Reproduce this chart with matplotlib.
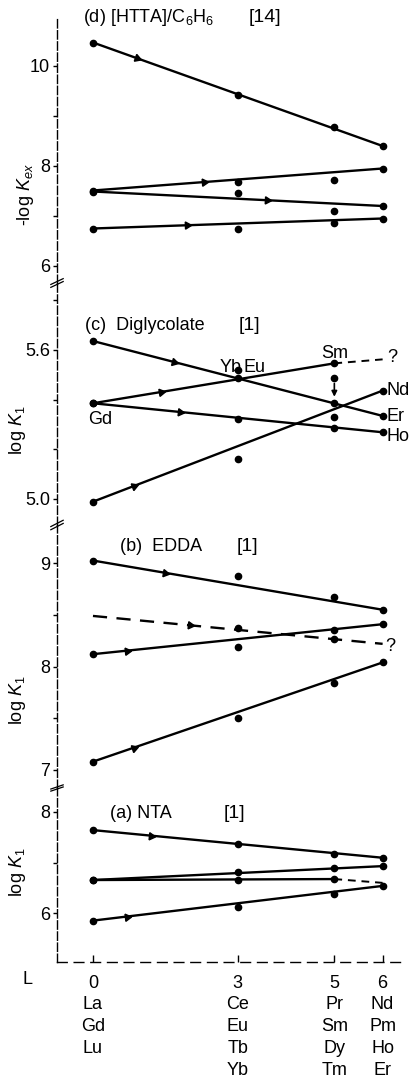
import numpy as np
import matplotlib
matplotlib.use('Agg')
import matplotlib.pyplot as plt
from matplotlib import font_manager

# fonts: a narrow sans like the scan, whichever is installed
names = {f.name for f in font_manager.fontManager.ttflist}
FONT = 'DejaVu Sans'
for cand in ['Liberation Sans Narrow', 'Liberation Sans']:
    if cand in names:
        FONT = cand
        break
plt.rcParams['font.family'] = [FONT, 'DejaVu Sans']
plt.rcParams['mathtext.fontset'] = 'custom'
plt.rcParams['mathtext.rm'] = FONT
plt.rcParams['mathtext.it'] = FONT + ':italic'
plt.rcParams['font.size'] = 12

# x axis: L quantum number and the lanthanides that share it
L = [0, 3, 5, 6]
tick_labels = ['0\nLa\nGd\nLu', '3\nCe\nEu\nTb\nYb', '5\nPr\nSm\nDy\nTm', '6\nNd\nPm\nHo\nEr']

# (d) [HTTA]/C6H6 : -log Kex
d_start = [10.47, 7.51, 7.49, 6.75]
d_end = [8.40, 7.95, 7.20, 6.95]
d_xend = [6, 6, 6, 6]
d_style = ['-', '-', '-', '-']
d_pts = [[10.47, 9.42, 8.79, 8.40],
         [7.51, 7.69, 7.72, 7.95],
         [7.49, 7.47, 7.11, 7.20],
         [6.75, 6.75, 6.87, 6.95]]
d_arrow = [0.92, 2.3, 3.6, 1.95]
d_ext = [None, None, None, None]

# (c) diglycolate : log K1
c_start = [5.636, 5.385, 5.385, 4.988]
c_end = [5.334, 5.546, 5.268, 5.436]
c_xend = [6, 5, 6, 6]
c_style = ['-', '-', '-', '-']
c_pts = [[5.636, 5.486, 5.385, 5.334],
         [5.385, 5.519, 5.546, None],
         [5.385, 5.320, 5.284, 5.268],
         [4.988, 5.159, 5.328, 5.436]]
c_arrow = [1.67, 1.4, 1.8, 0.85]
c_ext = [None, 5.562, None, None]
c_shift = [5.486, 5.40]

# (b) EDDA : log K1
b_start = [9.026, 8.49, 8.12, 7.08]
b_end = [8.55, 8.22, 8.41, 8.04]
b_xend = [6, 6, 6, 6]
b_style = ['-', '--', '-', '-']
b_pts = [[9.026, 8.877, 8.67, 8.55],
         [None, 8.37, 8.27, None],
         [8.12, 8.19, 8.355, 8.41],
         [7.08, 7.50, 7.84, 8.04]]
b_arrow = [1.5, 2.0, 0.7, 0.85]
b_ext = [None, None, None, None]

# (a) NTA : log K1
a_start = [7.64, 6.656, 6.656, 5.856]
a_end = [7.095, 6.93, 6.675, 6.54]
a_xend = [6, 6, 5, 6]
a_style = ['-', '-', '-', '-']
a_pts = [[7.64, 7.36, 7.16, 7.095],
         [6.656, 6.82, 6.885, 6.93],
         [6.656, 6.656, 6.675, None],
         [5.856, 6.13, 6.39, 6.54]]
a_arrow = [1.2, None, None, 0.7]
a_ext = [None, None, 6.60, None]

W, H = 410, 1080
fig = plt.figure(figsize=(W / 100, H / 100), dpi=100)


def make_axes(top, bottom):
    return fig.add_axes([57 / W, 1 - bottom / H, (400 - 57) / W, (bottom - top) / H])


ax_d = make_axes(17, 283)
ax_c = make_axes(283, 525)
ax_b = make_axes(525, 788)
ax_a = make_axes(788, 962)

ax_d.set_ylim(5.66, 10.98)
ax_c.set_ylim(4.894, 5.87)
ax_b.set_ylim(6.825, 9.37)
ax_a.set_ylim(5.04, 8.47)

ax_d.set_yticks([6, 7, 8, 9, 10], ['6', '', '8', '', '10'])
ax_c.set_yticks([5.0, 5.2, 5.4, 5.6, 5.8], ['5.0', '', '', '5.6', ''])
ax_b.set_yticks([7, 7.5, 8, 8.5, 9], ['7', '', '8', '', '9'])
ax_a.set_yticks([6, 7, 8], ['6', '', '8'])

for ax in [ax_d, ax_c, ax_b, ax_a]:
    ax.set_xlim(-0.745, 6.36)
    ax.patch.set_alpha(0)
    for s in ['top', 'right', 'bottom']:
        ax.spines[s].set_visible(False)
    ax.spines['left'].set_linestyle((0, (6, 2)))
    ax.spines['left'].set_linewidth(1.0)
    ax.tick_params(axis='y', direction='out', length=3, width=1, pad=2, labelsize=13)
    ax.tick_params(axis='x', bottom=False, labelbottom=False)

# bottom axis on (a)
ax_a.spines['bottom'].set_visible(True)
ax_a.spines['bottom'].set_linestyle((0, (7, 5)))
ax_a.spines['bottom'].set_linewidth(1.0)
ax_a.set_xticks(L)
ax_a.set_xticklabels(tick_labels, linespacing=1.38, fontsize=13)
ax_a.tick_params(axis='x', bottom=True, labelbottom=True, direction='in',
                 length=5, width=1, pad=9)


def draw_panel(ax, ys, ye, xe, styles, pts, arrows, ext):
    for i in range(len(ys)):
        ax.plot([0, xe[i]], [ys[i], ye[i]], color='k', lw=1.7, ls=styles[i],
                dashes=(6, 4) if styles[i] == '--' else (None, None), zorder=2)
        if ext[i] is not None:
            ax.plot([xe[i], 6], [ye[i], ext[i]], color='k', lw=1.4, dashes=(4, 3))
        xs = [x for x, y in zip(L, pts[i]) if y is not None]
        yv = [y for y in pts[i] if y is not None]
        ax.plot(xs, yv, 'o', color='k', ms=4.5, zorder=3)
        if arrows[i] is not None:
            p0 = ax.transData.transform((0, ys[i]))
            p1 = ax.transData.transform((xe[i], ye[i]))
            ang = np.degrees(np.arctan2(p1[1] - p0[1], p1[0] - p0[0]))
            ya = ys[i] + (ye[i] - ys[i]) * arrows[i] / xe[i]
            ax.plot([arrows[i]], [ya], marker=(3, 0, ang - 90), color='k', ms=6, zorder=3)


draw_panel(ax_d, d_start, d_end, d_xend, d_style, d_pts, d_arrow, d_ext)
draw_panel(ax_c, c_start, c_end, c_xend, c_style, c_pts, c_arrow, c_ext)
draw_panel(ax_b, b_start, b_end, b_xend, b_style, b_pts, b_arrow, b_ext)
draw_panel(ax_a, a_start, a_end, a_xend, a_style, a_pts, a_arrow, a_ext)

# shifted point in (c) with arrow
ax_c.plot([5], [c_shift[0]], 'o', color='k', ms=4.5)
ax_c.annotate('', xy=(5, c_shift[1]), xytext=(5, c_shift[0] - 0.01),
              arrowprops=dict(arrowstyle='-|>', lw=1.2, color='k', mutation_scale=8))

# panel titles
ax_d.text(-0.2, 10.96, '(d) [HTTA]/C$_6$H$_6$', ha='left', va='center', fontsize=13)
ax_d.text(3.56, 10.96, '[14]', ha='center', va='center', fontsize=14)
ax_c.text(-0.17, 5.70, '(c)  Diglycolate', ha='left', va='center', fontsize=13)
ax_c.text(3.25, 5.70, '[1]', ha='center', va='center', fontsize=14)
ax_b.text(0.56, 9.16, '(b)  EDDA', ha='left', va='center', fontsize=13)
ax_b.text(3.21, 9.16, '[1]', ha='center', va='center', fontsize=14)
ax_a.text(0.35, 7.97, '(a) NTA', ha='left', va='center', fontsize=13)
ax_a.text(2.94, 7.97, '[1]', ha='center', va='center', fontsize=14)

# element labels in (c) and (b)
ax_c.text(0.15, 5.318, 'Gd', ha='center', va='center', fontsize=13)
ax_c.text(2.86, 5.53, 'Yb', ha='center', va='center', fontsize=13)
ax_c.text(3.35, 5.53, 'Eu', ha='center', va='center', fontsize=13)
ax_c.text(5.01, 5.585, 'Sm', ha='center', va='center', fontsize=13)
ax_c.text(6.21, 5.568, '?', ha='center', va='center', fontsize=13)
ax_c.text(6.08, 5.435, 'Nd', ha='left', va='center', fontsize=13)
ax_c.text(6.08, 5.33, 'Er', ha='left', va='center', fontsize=13)
ax_c.text(6.08, 5.25, 'Ho', ha='left', va='center', fontsize=13)
ax_b.text(6.15, 8.19, '?', ha='center', va='center', fontsize=13)

# y labels
fig.text(26 / W, 1 - 195 / H, '-log $\\mathit{K}_{ex}$', rotation=90, ha='center', va='center', fontsize=13)
fig.text(18 / W, 1 - 430 / H, 'log $\\mathit{K}_1$', rotation=90, ha='center', va='center', fontsize=13)
fig.text(17 / W, 1 - 700 / H, 'log $\\mathit{K}_1$', rotation=90, ha='center', va='center', fontsize=13)
fig.text(17 / W, 1 - 872 / H, 'log $\\mathit{K}_1$', rotation=90, ha='center', va='center', fontsize=13)
fig.text(28 / W, 1 - 980 / H, 'L', ha='center', va='center', fontsize=13)

# axis breaks on the left spine
for ax in [ax_c, ax_b, ax_a]:
    for dy in [-0.006, 0.006]:
        ax.plot([-0.018, 0.018], [1 + dy - 0.012, 1 + dy + 0.012], transform=ax.transAxes,
                color='k', lw=0.9, clip_on=False)

fig.savefig('out.png', dpi=100)
